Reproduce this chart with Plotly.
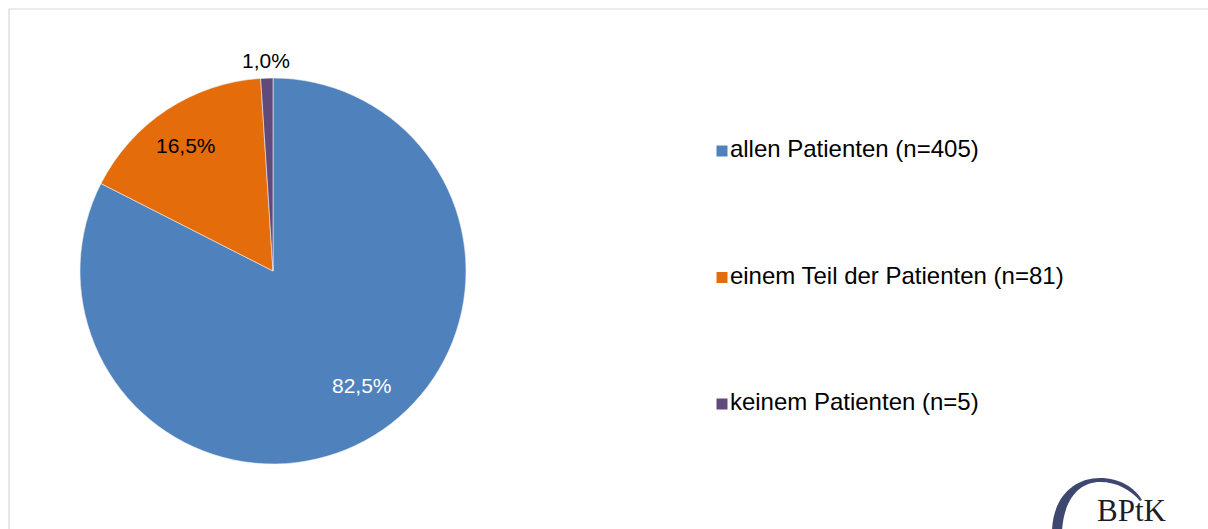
import math
import plotly.graph_objects as go

# ---- data ----
categories = ["allen Patienten (n=405)", "einem Teil der Patienten (n=81)", "keinem Patienten (n=5)"]
counts = [405, 81, 5]
colors = ["#4F81BD", "#E46C0A", "#604A7B"]
label_colors = ["white", "black", "black"]
# label placement style: distance from centre (share of radius) and angular nudge (degrees)
label_radius = [0.75, 0.79, 1.09]
label_nudge = [-6.5, -1.5, 0.0]

W, H = 1208, 529

def px(x, y):
    return x / W, 1 - y / H

CX, CY, R = 273, 271, 193

fig = go.Figure()

dx0, dy1 = px(CX - R, CY - R)
dx1, dy0 = px(CX + R, CY + R)
fig.add_trace(go.Pie(
    labels=categories,
    values=counts,
    sort=False,
    direction="clockwise",
    rotation=0,
    marker=dict(colors=colors, line=dict(color="#F0F0F0", width=0.6)),
    textinfo="none",
    domain=dict(x=[dx0, dx1], y=[dy0, dy1]),
    showlegend=False,
    hoverinfo="label+value+percent",
))

# percentage labels placed around each slice's mid-angle
total = sum(counts)
cum = 0
for v, c, rf, nd in zip(counts, label_colors, label_radius, label_nudge):
    mid = (cum + v / 2) / total * 2 * math.pi + math.radians(nd)
    cum += v
    lx = CX + rf * R * math.sin(mid)
    ly = CY - rf * R * math.cos(mid)
    ax, ay = px(lx, ly)
    txt = f"{v / total * 100:.1f}%".replace(".", ",")
    fig.add_annotation(xref="paper", yref="paper", x=ax, y=ay, text=txt, showarrow=False,
                       xanchor="center", yanchor="middle",
                       font=dict(family="Liberation Sans, Arial", size=21, color=c))

# legend drawn as a marker+text scatter on hidden axes
fig.add_trace(go.Scatter(
    x=[0] * len(categories),
    y=list(range(len(categories))),
    mode="markers+text",
    text=categories,
    textposition="middle right",
    textfont=dict(size=24, color="black", family="Liberation Sans, Arial"),
    marker=dict(symbol="square", size=11, color=colors),
    showlegend=False,
    hoverinfo="text",
    cliponaxis=False,
))

top_px, step = 151, 126.5
xd0 = 700 / W
fig.update_layout(
    width=W, height=H,
    margin=dict(l=0, r=0, t=0, b=0),
    paper_bgcolor="white",
    plot_bgcolor="rgba(0,0,0,0)",
    xaxis=dict(domain=[xd0, 1], range=[-22, W - 700 - 22], visible=False, fixedrange=True),
    yaxis=dict(domain=[0, 1], range=[(H - top_px) / step, -top_px / step], visible=False, fixedrange=True),
)

# outer frame
x0, y1 = px(9, 9)
fig.add_shape(type="rect", xref="paper", yref="paper", x0=x0, y0=-0.01, x1=1.01, y1=y1,
              line=dict(color="#D9D9D9", width=1.2), fillcolor="rgba(0,0,0,0)", layer="below")

# BPtK logo arc
def P(x, y):
    a, b = px(x, y)
    return f"{a:.5f},{b:.5f}"

path = (f"M {P(1052,531)} C {P(1053,497)} {P(1074,478)} {P(1100,478)} "
        f"C {P(1120,478)} {P(1135,488)} {P(1142,500)} "
        f"L {P(1140,501)} C {P(1131,490)} {P(1117,482)} {P(1100,482)} "
        f"C {P(1080,482)} {P(1064,498)} {P(1062,531)} Z")
fig.add_shape(type="path", xref="paper", yref="paper", path=path,
              fillcolor="#3E4770", line=dict(width=0))

lx, ly = px(1132, 510)
fig.add_annotation(xref="paper", yref="paper", x=lx, y=ly, text="BPtK", showarrow=False,
                   font=dict(family="Liberation Serif, Times New Roman", size=31, color="#1C1C2E"),
                   xanchor="center", yanchor="middle")

fig.write_html(
    "out.html",
    config={"displayModeBar": False},
    post_script="document.body.style.margin='0';document.body.style.overflow='hidden';",
)
